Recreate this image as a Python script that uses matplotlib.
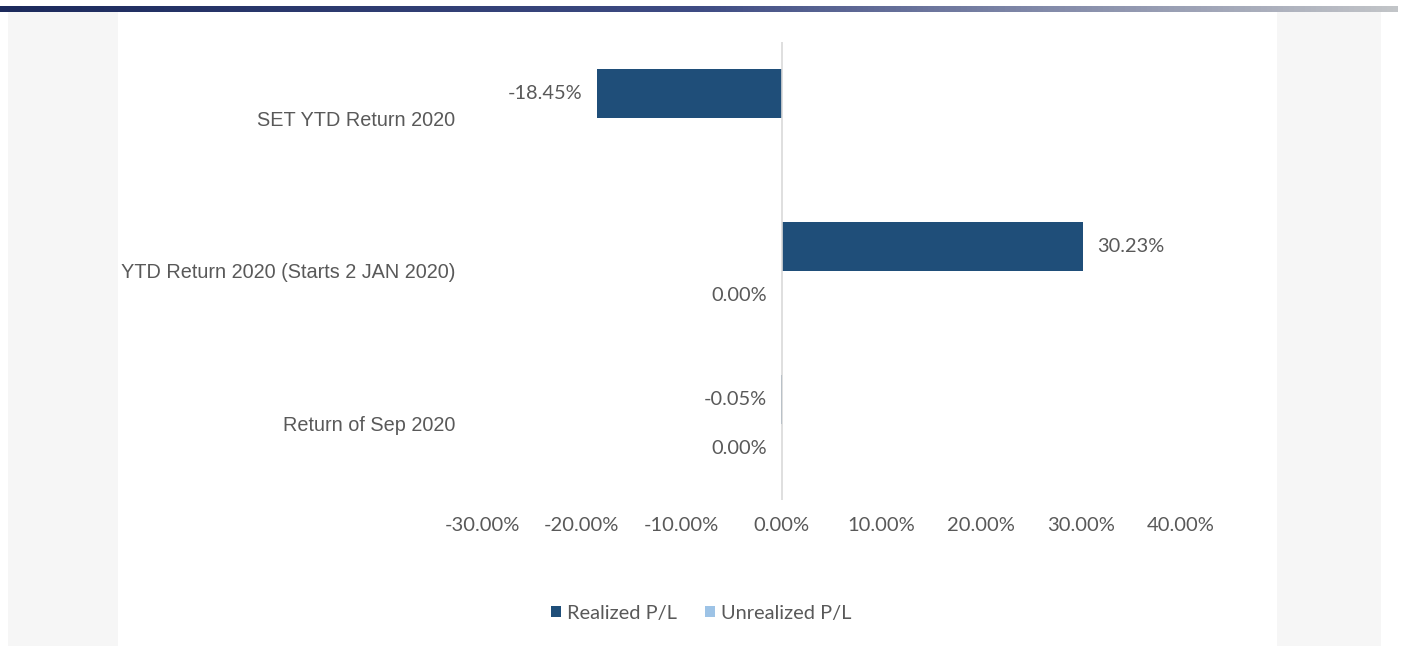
import numpy as np
import matplotlib.pyplot as plt
from matplotlib.colors import LinearSegmentedColormap
from matplotlib.patches import Rectangle

# data (bottom to top, as drawn)
categories = ["Return of Sep 2020", "YTD Return 2020 (Starts 2 JAN 2020)", "SET YTD Return 2020"]
realized = [-0.05, 30.23, -18.45]
unrealized = [0.00, 0.00, np.nan]
series_names = ["Realized P/L", "Unrealized P/L"]
x_ticks = [-30, -20, -10, 0, 10, 20, 30, 40]

dark_blue = "#1f4e79"
light_blue = "#9dc3e6"
text_gray = "#595959"

W, H = 1402, 646
fig = plt.figure(figsize=(W / 100, H / 100), dpi=100)
fig.patch.set_facecolor("white")

# page decoration: grey side panels and gradient header bar
bg = fig.add_axes([0, 0, 1, 1], zorder=-5)
bg.set_xlim(0, W)
bg.set_ylim(H, 0)
bg.axis("off")
bg.add_patch(Rectangle((8, 12), 110, H - 12, color="#f6f6f6", lw=0))
bg.add_patch(Rectangle((1277, 12), 104, H - 12, color="#f6f6f6", lw=0))
grad = LinearSegmentedColormap.from_list(
    "hdr", [(0, "#1c2a5c"), (0.5, "#3f4c84"), (0.74, "#8088a8"), (1, "#c2c5c8")])
bg.imshow(np.linspace(0, 1, 256)[None, :], cmap=grad, aspect="auto",
          extent=(0, 1398, 12, 6), zorder=2)

# chart
ax = fig.add_axes([482 / W, 1 - 500 / H, (1181 - 482) / W, (500 - 42) / H])
ax.set_facecolor("none")

y = np.arange(len(categories))
h = 0.32
ax.barh(y + h / 2, realized, height=h, color=dark_blue, label=series_names[0])
ax.barh(y - h / 2, np.nan_to_num(unrealized), height=h, color=light_blue, label=series_names[1])

# data labels: outside end, zero/negative values go to the left
for vals, off in [(realized, h / 2), (unrealized, -h / 2)]:
    for yi, v in zip(y, vals):
        if np.isnan(v):
            continue
        if v > 0:
            ax.annotate(f"{v:.2f}%", (v, yi + off), xytext=(10, 0), textcoords="offset points",
                        ha="left", va="center", fontsize=14.4, color=text_gray, family="Lato")
        else:
            ax.annotate(f"{v:.2f}%", (v, yi + off), xytext=(-10.5, 0), textcoords="offset points",
                        ha="right", va="center", fontsize=14.4, color=text_gray, family="Lato")

ax.set_xlim(-30, 40)
ax.set_ylim(-0.5, 2.5)
ax.set_xticks(x_ticks)
ax.set_xticklabels([f"{t:.2f}%" for t in x_ticks], family="Lato", fontsize=14.5, color=text_gray)
ax.set_yticks(y)
ax.set_yticklabels(categories, family="Liberation Sans", fontsize=14.3, color=text_gray)
ax.tick_params(axis="both", length=0)
ax.tick_params(axis="x", pad=12)
ax.tick_params(axis="y", pad=19)
for s in ax.spines.values():
    s.set_visible(False)
ax.axvline(0, color="#d9d9d9", lw=1.2, zorder=3)

leg = fig.legend(loc="center", bbox_to_anchor=(701 / W, 1 - 613 / H), ncol=2, frameon=False,
                 handlelength=0.5, handleheight=0.5, handletextpad=0.3, columnspacing=1.4,
                 prop={"family": "Lato", "size": 14.4})
for t in leg.get_texts():
    t.set_color(text_gray)

fig.savefig("out.png", dpi=100, facecolor=fig.get_facecolor())
